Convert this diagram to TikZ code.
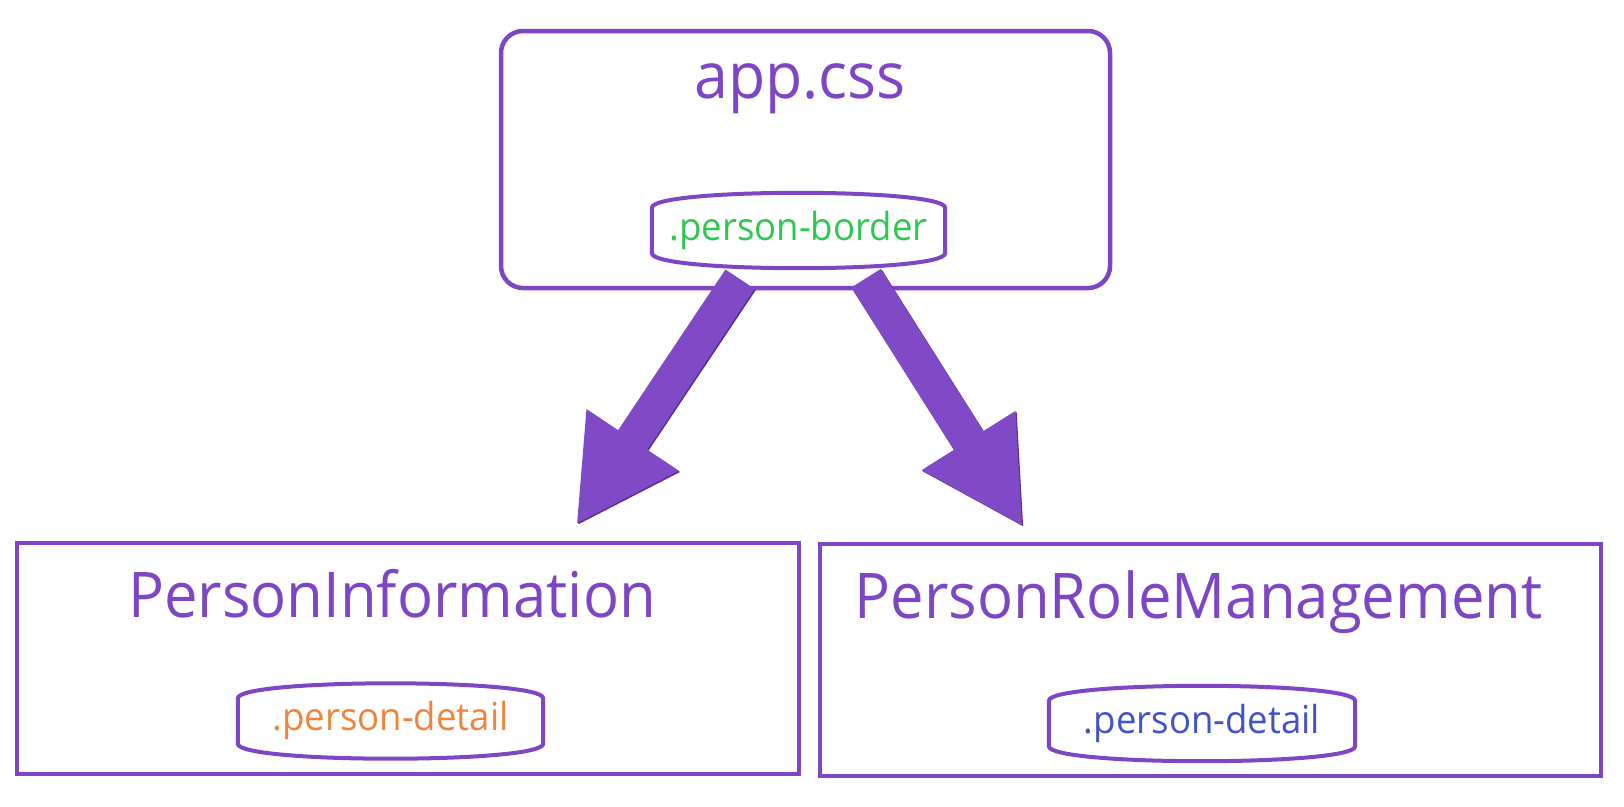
\documentclass[tikz,border=0pt]{standalone}
\usepackage{fontspec}
\setmainfont{Open Sans}[FakeStretch=0.95]
\usepackage{xcolor}
\usetikzlibrary{arrows.meta}
\definecolor{frame}{HTML}{7E46C4}
\definecolor{flowfill}{HTML}{8049C6}
\definecolor{flowshade}{HTML}{5A2E95}
\definecolor{tagGreen}{HTML}{2EC84E}
\definecolor{tagOrange}{HTML}{F0843C}
\definecolor{tagBlue}{HTML}{4252C8}
\newcommand{\titlefont}{\fontsize{63}{70}\selectfont}
\newcommand{\tagfont}{\fontsize{38.5}{44}\selectfont}
\tikzset{
  every picture/.style = {
    x=1pt,
    y=-1pt
  },
  panel/.style={
    draw=frame,
    line width=4.5pt,
    inner sep=0pt
  },
  title/.style={
    text=frame,
    anchor=base,
    inner sep=0pt,
    font=\titlefont
  },
  tag/.style={
    inner sep=0pt,
    minimum height=45pt,
    text height=24pt,
    text depth=5pt,
    font=\tagfont
  },
  tagline/.style={
    draw=frame,
    line width=4pt
  },
  flow/.style={
    line width=35pt,
    draw=flowfill,
    -{Triangle[length=102pt,width=103pt]}
  }
}
\begin{document}
\begin{tikzpicture}
    \useasboundingbox (0,0) rectangle (1624,806);
    % boxes
    \node[panel, rounded corners=22pt, minimum width=609pt, minimum height=257pt] (css) at (805.5,159.5) {};
    \node[panel, minimum width=782pt, minimum height=231pt] (info) at (408,658.5) {};
    \node[panel, minimum width=781pt, minimum height=232pt] (role) at (1210.5,660) {};
    \node[title, font=\fontsize{64}{70}\selectfont] (cssname) at (800,98) {app.css};
    \node[title] (infoname) at (392,617) {PersonInformation};
    \node[title] (rolename) at (1198.5,618) {PersonRoleManagement};
    % classes
    \node[tag, minimum width=293pt, text=tagGreen] (border) at (798.5,230.5) {.person-border};
    \node[tag, minimum width=305pt, text=tagOrange] (detailA) at (390.5,721) {.person-detail};
    \node[tag, minimum width=306pt, text=tagBlue] (detailB) at (1202,723.5) {.person-detail};
    \foreach \n in {border,detailA,detailB}
        \draw[tagline] (\n.north west) .. controls ([yshift=20pt]\n.north west) and ([yshift=20pt]\n.north east) .. (\n.north east)
            -- (\n.south east) .. controls ([yshift=-20pt]\n.south east) and ([yshift=-20pt]\n.south west) .. (\n.south west) -- cycle;
    % arrows
    \coordinate (tailL) at ([xshift=-58.5pt,yshift=-26pt]border.south);
    \coordinate (headL) at ([xshift=168pt,yshift=16pt]info.north);
    \coordinate (tailR) at ([xshift=67.5pt,yshift=-25pt]border.south);
    \coordinate (headR) at ([xshift=-187.5pt,yshift=15pt]role.north);
    \draw[flow, draw=flowshade, transform canvas={shift={(1.2pt,-1.2pt)}}] (tailL) -- (headL);
    \draw[flow, draw=flowshade, transform canvas={shift={(1.2pt,-1.2pt)}}] (tailR) -- (headR);
    \draw[flow] (tailL) -- (headL);
    \draw[flow] (tailR) -- (headR);
\end{tikzpicture}
\end{document}
